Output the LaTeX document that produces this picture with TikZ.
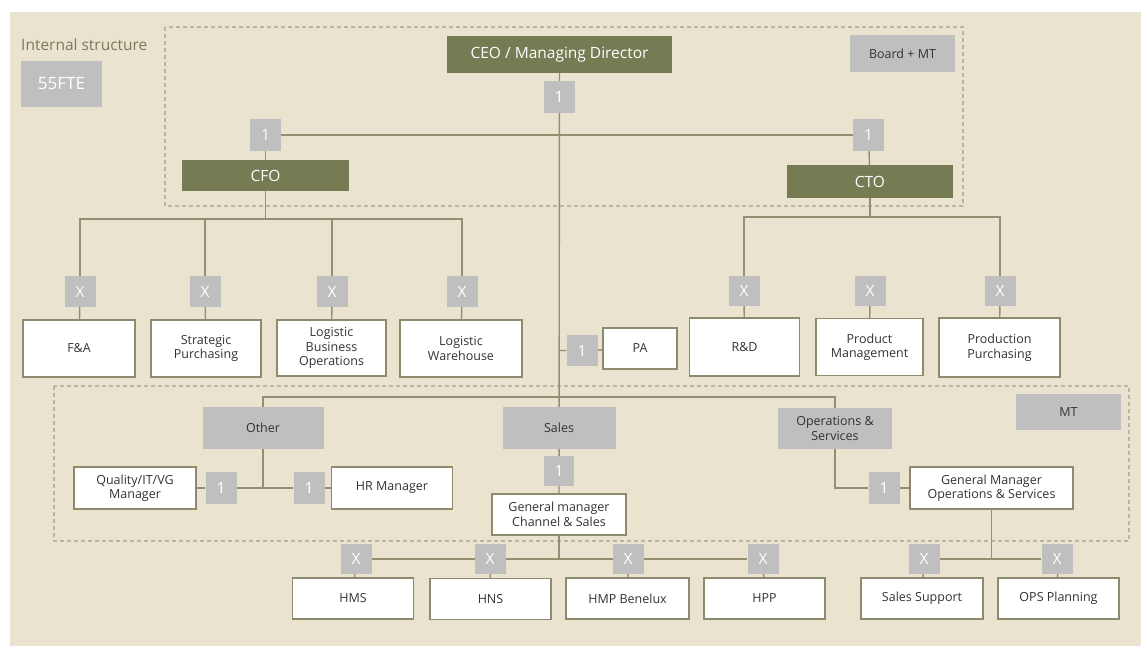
\documentclass[tikz,border=0pt]{standalone}
\usepackage{fontspec}
\setmainfont{Open Sans}
\definecolor{beige}{HTML}{EAE3CF}
\definecolor{olive}{HTML}{767B53}
\definecolor{gboxc}{HTML}{BFBFBF}
\definecolor{linec}{HTML}{958F72}
\definecolor{borderc}{HTML}{8C8B6E}
\definecolor{dashc}{HTML}{B9B4A3}
\definecolor{txt}{HTML}{333333}
\definecolor{intlc}{HTML}{7C7A5A}
\newcommand\fA{\fontsize{12.5}{14.5}\selectfont}
\newcommand\fB{\fontsize{15.5}{18}\selectfont}
\newcommand\fC{\fontsize{17}{20}\selectfont}
\pgfdeclarelayer{bg}
\pgfdeclarelayer{lines}
\pgfsetlayers{bg,lines,main}
\tikzset{
  wbox/.style={draw=borderc, line width=1.3pt, fill=white, text=txt, align=center, font=\fA, inner sep=0pt},
  gbox/.style={fill=gboxc, text=txt, align=center, font=\fA, inner sep=0pt},
  nbox/.style={fill=gboxc, text=white, font=\fB, inner sep=0pt, minimum width=31pt, minimum height=31pt},
  obox/.style={fill=olive, text=white, font=\fB, inner sep=0pt},
  conn/.style={draw=linec, line width=1.4pt},
  dashbox/.style={draw=dashc, line width=1.1pt, dash pattern=on 4pt off 3pt},
}
\begin{document}
\begin{tikzpicture}[x=1pt,y=-1pt]
\useasboundingbox (0,0) rectangle (1141,646);
\begin{pgfonlayer}{bg}
\fill[white] (0,0) rectangle (1141,646);
\fill[beige] (10,12) rectangle (1141,646);
\draw[dashbox] (165,27) rectangle (963,206);
\draw[dashbox] (54,386) rectangle (1129,541);
\end{pgfonlayer}

% header
\node[anchor=west, text=intlc, font=\fB, inner sep=0pt] (intl) at (21,45) {Internal structure};
\node[gbox, text=white, font=\fC, minimum width=81pt, minimum height=46pt] (fte) at (61.5,84) {55FTE};

% top management
\node[obox, minimum width=225pt, minimum height=37pt] (ceo) at (559.5,54.5) {CEO / Managing Director};
\node[gbox, minimum width=105pt, minimum height=37pt] (board) at (902.5,53.5) {Board + MT};
\node[nbox, minimum height=32pt] (oneceo) at (559,97) {1};
\node[nbox, minimum height=32pt] (onel) at (265.5,135) {1};
\node[nbox, minimum height=32pt] (oner) at (868.5,135) {1};
\node[obox, minimum width=167pt, minimum height=31pt] (cfo) at (265.5,175.5) {CFO};
\node[obox, minimum width=166pt, minimum height=33pt] (cto) at (870,181.5) {CTO};

% CFO departments
\node[nbox] (xfa) at (80,291.5) {X};
\node[nbox] (xsp) at (205,291.5) {X};
\node[nbox] (xlbo) at (332,291.5) {X};
\node[nbox] (xlw) at (462,291.5) {X};
\node[wbox, minimum width=112pt, minimum height=57pt] (fa) at (79,348.5) {F\&A};
\node[wbox, minimum width=110pt, minimum height=57pt] (sp) at (206,348.5) {Strategic\\Purchasing};
\node[wbox, minimum width=109pt, minimum height=56pt] (lbo) at (331.5,348) {Logistic\\Business\\Operations};
\node[wbox, minimum width=122pt, minimum height=57pt] (lw) at (461,348.5) {Logistic\\Warehouse};

% CTO departments
\node[nbox, minimum height=30pt] (xrd) at (744,291) {X};
\node[nbox, minimum height=30pt] (xpm) at (870,291) {X};
\node[nbox, minimum height=30pt] (xpp) at (1000,291) {X};
\node[wbox, minimum width=110pt, minimum height=58pt] (rd) at (744.5,347) {R\&D};
\node[wbox, minimum width=107pt, minimum height=57pt] (pm) at (869.5,347) {Product\\Management};
\node[wbox, minimum width=121pt, minimum height=59pt] (pp) at (999.5,347.5) {Production\\Purchasing};

% PA
\node[nbox] (onepa) at (582,350.5) {1};
\node[wbox, minimum width=74pt, minimum height=41pt] (pa) at (640,348.5) {PA};

% MT level
\node[gbox, minimum width=105pt, minimum height=36pt] (mt) at (1068.5,412) {MT};
\node[gbox, minimum width=121pt, minimum height=42pt] (other) at (263,428) {Other};
\node[gbox, minimum width=113pt, minimum height=42pt] (sales) at (559,428) {Sales};
\node[gbox, minimum width=114pt, minimum height=41pt] (ops) at (835,428.5) {Operations \&\\Services};
\node[wbox, minimum width=122pt, minimum height=42pt] (quality) at (135,488) {Quality/IT/VG\\Manager};
\node[nbox, minimum height=32pt] (oneq) at (221,488) {1};
\node[nbox, minimum height=32pt] (onehr) at (309,488) {1};
\node[wbox, minimum width=121pt, minimum height=42pt] (hr) at (392,488) {HR Manager};
\node[nbox, minimum width=30pt, minimum height=30pt] (onesales) at (559,471) {1};
\node[wbox, minimum width=134pt, minimum height=41pt] (gmcs) at (559,514.5) {General manager\\Channel \& Sales};
\node[nbox, minimum height=32pt] (oneops) at (884,488) {1};
\node[wbox, minimum width=163pt, minimum height=42pt] (gmops) at (991.5,488) {General Manager\\Operations \& Services};

% bottom level
\node[nbox, minimum height=30pt] (xhms) at (356,559) {X};
\node[nbox, minimum height=30pt] (xhns) at (490,559) {X};
\node[nbox, minimum height=30pt] (xhmp) at (628,559) {X};
\node[nbox, minimum height=30pt] (xhpp) at (763,559) {X};
\node[nbox, minimum height=30pt] (xss) at (924,559) {X};
\node[nbox, minimum height=30pt] (xopsp) at (1057,559) {X};
\node[wbox, minimum width=121pt, minimum height=41pt] (hms) at (353,598.5) {HMS};
\node[wbox, minimum width=121pt, minimum height=41pt] (hns) at (490.5,599) {HNS};
\node[wbox, minimum width=123pt, minimum height=41pt] (hmp) at (627.5,598.5) {HMP Benelux};
\node[wbox, minimum width=121pt, minimum height=41pt] (hpp) at (764.5,598.5) {HPP};
\node[wbox, minimum width=122pt, minimum height=41pt] (ss) at (922,598.5) {Sales Support};
\node[wbox, minimum width=121pt, minimum height=41pt] (opsp) at (1058.5,598.5) {OPS Planning};

% bus points
\coordinate (cfobus) at (265.5,219);
\coordinate (ctobus) at (870,217);
\coordinate (sbus) at (559,397);
\coordinate (chbus) at (559,558);
\coordinate (opsbus) at (991.5,558);

\begin{pgfonlayer}{lines}
% central spine
\draw[conn] (ceo) -- (gmcs);
\draw[conn] (gmcs) -- (chbus);
\draw[conn] (onel) -- (oner);
\draw[conn] (onel) -- (cfo);
\draw[conn] (oner) -- (cto);
% CFO
\draw[conn] (cfo) -- (cfobus);
\draw[conn] (xfa) |- (cfobus) -| (xlw);
\draw[conn] (xsp) -- (xsp |- cfobus);
\draw[conn] (xlbo) -- (xlbo |- cfobus);
\draw[conn] (xfa) -- (fa);
\draw[conn] (xsp) -- (sp);
\draw[conn] (xlbo) -- (lbo);
\draw[conn] (xlw) -- (lw);
% CTO
\draw[conn] (cto) -- (ctobus);
\draw[conn] (xrd) |- (ctobus) -| (xpp);
\draw[conn] (xrd) -- (rd);
\draw[conn] (xpm) -- (pm);
\draw[conn] (xpp) -- (pp);
% PA
\draw[conn] (onepa -| ceo) -- (onepa) -- (pa);
% MT level
\draw[conn] (other) |- (sbus) -| (ops);
\draw[conn] (other) -- (other |- oneq);
\draw[conn] (quality) -- (oneq) -- (onehr) -- (hr);
\draw[conn] (ops) |- (oneops) -- (gmops);
% bottom
\draw[conn] (xhms) -- (xhpp);
\draw[conn] (xhms) -- (hms);
\draw[conn] (xhns) -- (hns);
\draw[conn] (xhmp) -- (hmp);
\draw[conn] (xhpp) -- (hpp);
\draw[conn] (gmops) -- (opsbus);
\draw[conn] (xss) -- (xopsp);
\draw[conn] (xss) -- (ss);
\draw[conn] (xopsp) -- (opsp);
\end{pgfonlayer}
\end{tikzpicture}
\end{document}
